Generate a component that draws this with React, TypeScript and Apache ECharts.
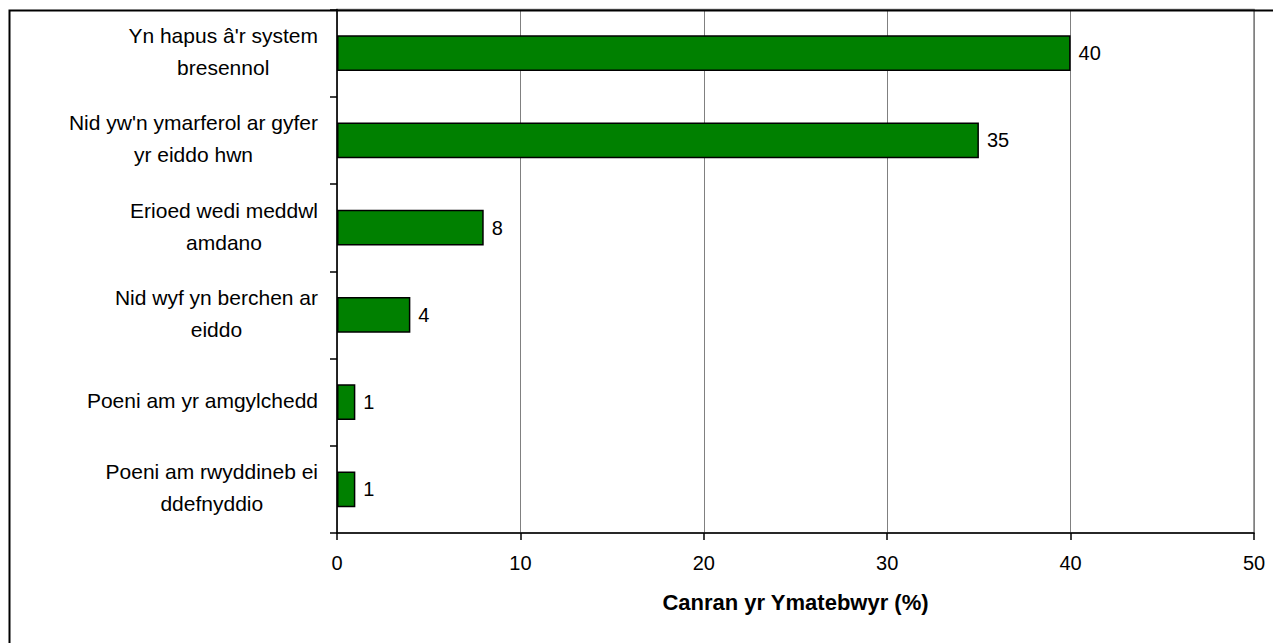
import React, { useEffect, useRef } from "react";
import * as echarts from "echarts";

const categories = [
  "Yn hapus â'r system\nbresennol",
  "Nid yw'n ymarferol ar gyfer\nyr eiddo hwn",
  "Erioed wedi meddwl\namdano",
  "Nid wyf yn berchen ar\neiddo",
  "Poeni am yr amgylchedd",
  "Poeni am rwyddineb ei\nddefnyddio",
];
const values = [40, 35, 8, 4, 1, 1];
const xTicks = { min: 0, max: 50, interval: 10 };
const xTitle = "Canran yr Ymatebwyr (%)";

const FONT = "'Liberation Sans', Arial, sans-serif";

export default function App() {
  const ref = useRef<HTMLDivElement>(null);
  useEffect(() => {
    if (!ref.current) return;
    const chart = echarts.init(ref.current, null, { renderer: "svg" });
    chart.setOption({
      animation: false,
      backgroundColor: "#ffffff",
      textStyle: { fontFamily: FONT },
      graphic: [
        {
          type: "rect",
          left: 7,
          top: 8,
          shape: { x: 0, y: 0, width: 1300, height: 700 },
          style: { fill: "none", stroke: "#000000", lineWidth: 2 },
          silent: true,
          z: 100,
        },
      ],
      grid: {
        left: 337,
        right: 19,
        top: 9.5,
        bottom: 110,
        show: true,
        borderColor: "#808080",
        borderWidth: 1.5,
        backgroundColor: "transparent",
      },
      xAxis: {
        type: "value",
        min: xTicks.min,
        max: xTicks.max,
        interval: xTicks.interval,
        name: xTitle,
        nameLocation: "middle",
        nameGap: 58,
        nameTextStyle: {
          fontFamily: FONT,
          fontSize: 22,
          fontWeight: "bold",
          color: "#000000",
        },
        axisLine: { show: true, lineStyle: { color: "#000000", width: 1.5 } },
        axisTick: { show: true, length: 7, lineStyle: { color: "#000000", width: 1.5 } },
        axisLabel: {
          margin: 20,
          fontFamily: FONT,
          fontSize: 20,
          color: "#000000",
        },
        splitLine: { show: true, lineStyle: { color: "#808080", width: 1 } },
      },
      yAxis: {
        type: "category",
        inverse: true,
        data: categories,
        axisLine: { show: true, lineStyle: { color: "#000000", width: 1.5 } },
        axisTick: { show: true, length: 7, lineStyle: { color: "#000000", width: 1.5 } },
        axisLabel: {
          margin: 19,
          align: "right",
          padding: [0, 0, 3, 0],
          formatter: (v: string) =>
            v
              .split("\n")
              .map((l) => `{c|${l}}`)
              .join("\n"),
          rich: {
            c: {
              align: "center",
              fontFamily: FONT,
              fontSize: 21,
              lineHeight: 32,
              color: "#000000",
            },
          },
        },
        splitLine: { show: false },
      },
      series: [
        {
          type: "bar",
          data: values,
          barWidth: "41%",
          itemStyle: { color: "#008000", borderColor: "#000000", borderWidth: 1.5 },
          label: {
            show: true,
            position: "right",
            distance: 8,
            fontFamily: FONT,
            fontSize: 20,
            color: "#000000",
          },
        },
      ],
    });
    return () => chart.dispose();
  }, []);
  return (
    <div
      ref={ref}
      style={{ position: "fixed", left: 0, top: 0, width: 1273, height: 643 }}
    />
  );
}
